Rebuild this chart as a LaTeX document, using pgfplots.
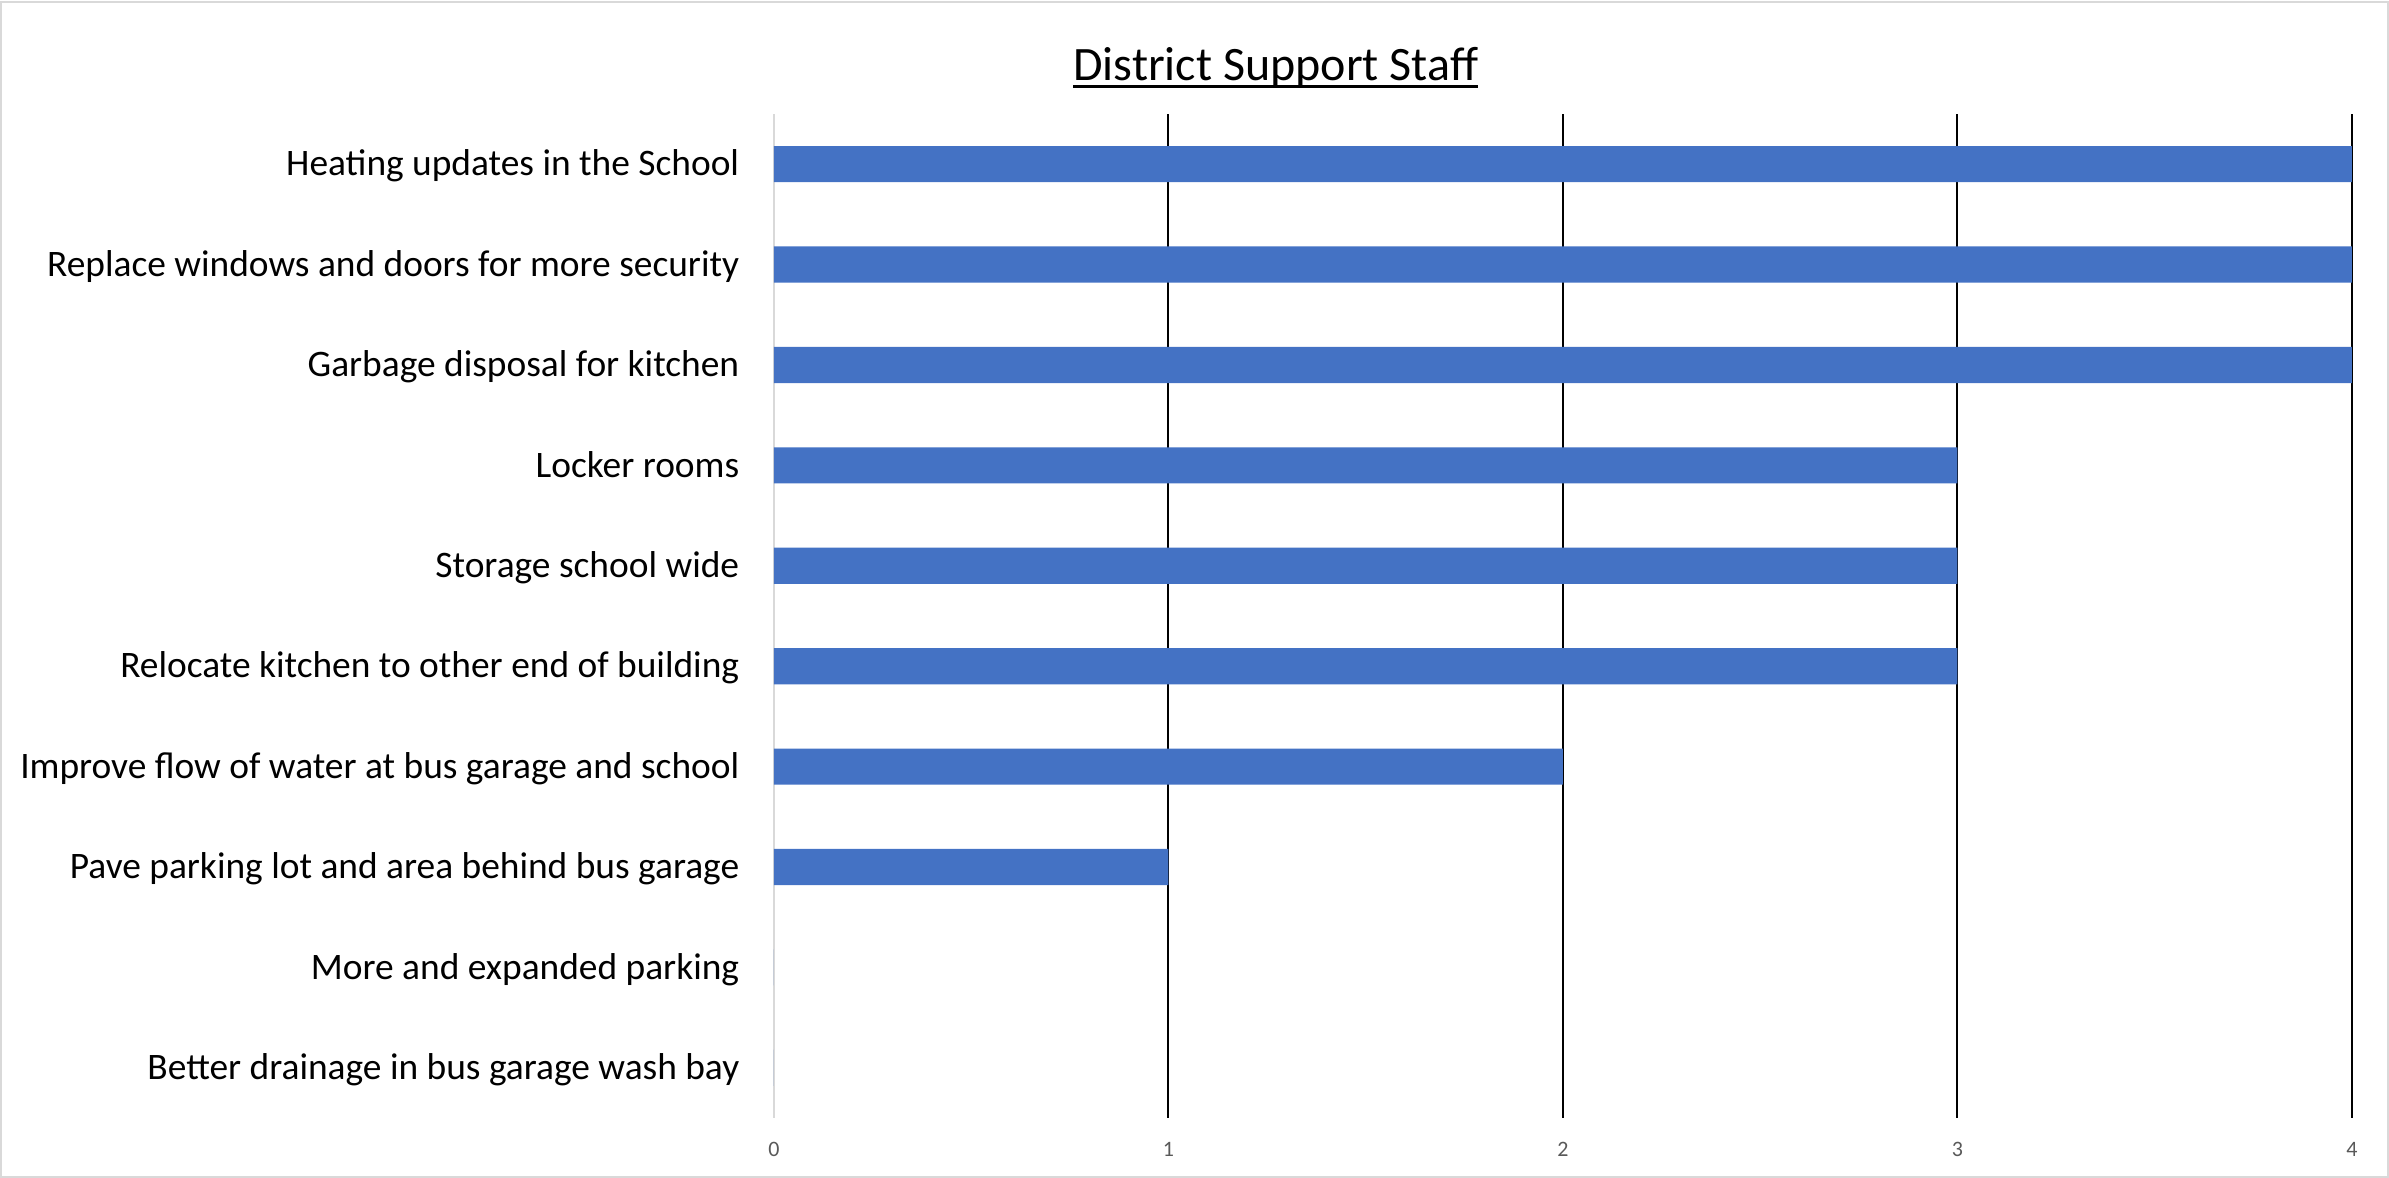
\documentclass[border=0pt]{standalone}
\usepackage{pgfplots}
\pgfplotsset{compat=1.18}
\usepackage{fontspec}
\setmainfont{Carlito}
\definecolor{barblue}{HTML}{4472C4}
\definecolor{ticktext}{HTML}{595959}
\definecolor{framegray}{HTML}{D9D9D9}
\begin{document}
\begin{tikzpicture}
\useasboundingbox (-193.5pt,-15pt) rectangle (403.75pt,279.5pt);
\draw[framegray, line width=0.5pt] (-193.25pt,-14.75pt) rectangle (403.5pt,279pt);
\begin{axis}[
  at={(0,0)}, anchor=south west,
  scale only axis, width=394.5pt, height=251pt,
  xbar, bar width=0.36,
  xmin=0, xmax=4, ymin=-0.5, ymax=9.5,
  enlargelimits=false,
  axis line style={draw=none},
  major tick length=0pt,
  xtick={1,2,3,4}, xticklabels={1,2,3,4},
  extra x ticks={0}, extra x tick labels={0},
  extra x tick style={grid style={framegray, line width=0.5pt}},
  xmajorgrids, grid style={black, line width=0.5pt},
  ytick={0,...,9},
  yticklabels={Better drainage in bus garage wash bay,
    More and expanded parking,
    Pave parking lot and area behind bus garage,
    Improve flow of water at bus garage and school,
    Relocate kitchen to other end of building,
    Storage school wide,
    Locker rooms\ ,
    Garbage disposal for kitchen,
    Replace windows and doors for more security,
    Heating updates in the School},
  yticklabel style={anchor=base east, inner sep=0pt, xshift=-8.5pt, yshift=-2.95pt,
    font=\fontsize{9.35pt}{10.5pt}\selectfont, text=black},
  xticklabel style={anchor=base, inner sep=0pt, yshift=-9.75pt,
    font=\fontsize{5.5pt}{6pt}\selectfont, text=ticktext},
  clip=false,
]
\addplot[fill=barblue, draw=none] coordinates {
  (0,0) (0,1) (1,2) (2,3) (3,4) (3,5) (3,6) (4,7) (4,8) (4,9)
};
\node[anchor=base, inner sep=0pt, font=\fontsize{12pt}{14pt}\selectfont]
  at (rel axis cs:0.318,1) [yshift=8.25pt]
  {\setbox0\hbox{District Support Staff}\rlap{\rule[-1.75pt]{\wd0}{0.75pt}}\box0};
\end{axis}
\end{tikzpicture}
\end{document}
